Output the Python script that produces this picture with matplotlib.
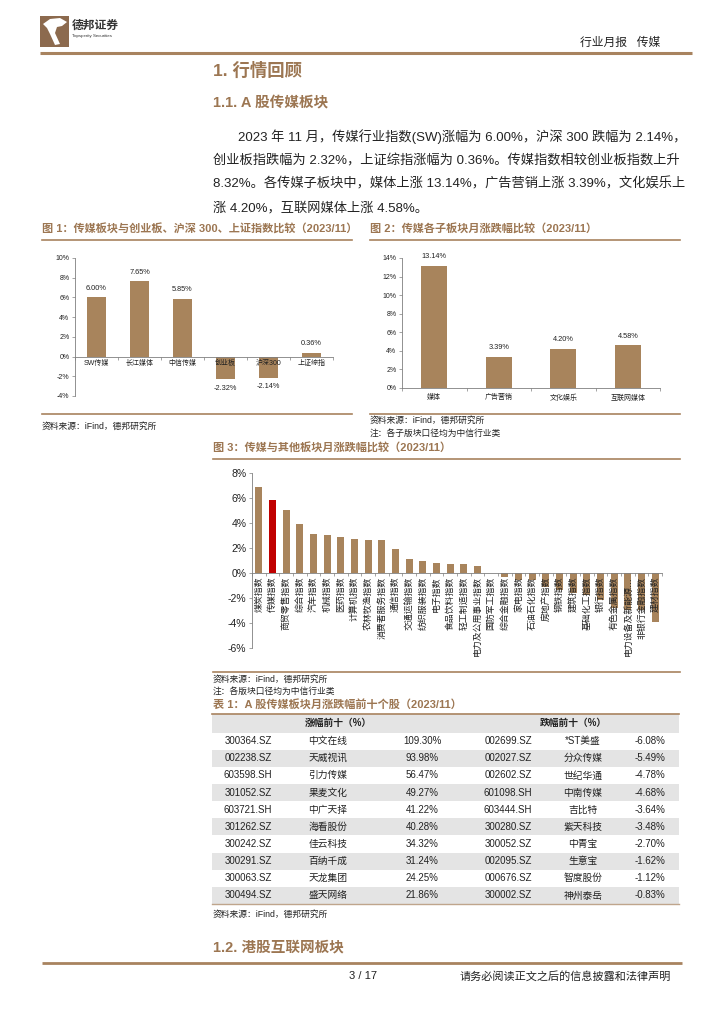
import numpy as np
import matplotlib
matplotlib.use("Agg")
import matplotlib.pyplot as plt
from matplotlib.patches import Rectangle, Polygon

plt.rcParams['font.family'] = ['Liberation Sans', 'Noto Sans CJK SC']

# 图1 数据
fig1_labels = ['SW传媒', '长江媒体', '中信传媒', '创业板', '沪深300', '上证综指']
fig1_values = [6.00, 7.65, 5.85, -2.32, -2.14, 0.36]

# 图2 数据
fig2_labels = ['媒体', '广告营销', '文化娱乐', '互联网媒体']
fig2_values = [13.14, 3.39, 4.20, 4.58]

# 图3 数据
fig3_labels = ['煤炭指数', '传媒指数', '商贸零售指数', '综合指数', '汽车指数', '机械指数',
               '医药指数', '计算机指数', '农林牧渔指数', '消费者服务指数', '通信指数',
               '交通运输指数', '纺织服装指数', '电子指数', '食品饮料指数', '轻工制造指数',
               '电力及公用事业指数', '国防军工指数', '综合金融指数', '家电指数', '石油石化指数',
               '房地产指数', '钢铁指数', '建筑指数', '基础化工指数', '银行指数', '有色金属指数',
               '电力设备及新能源…', '非银行金融指数', '建材指数']
fig3_values = [6.92, 5.85, 5.04, 3.93, 3.09, 3.05, 2.92, 2.72, 2.64, 2.64, 1.95,
               1.15, 0.99, 0.83, 0.73, 0.72, 0.53, -0.03, -0.33, -0.54, -0.56,
               -1.08, -1.36, -1.60, -1.72, -2.16, -2.82, -2.96, -2.98, -3.89]

# 表1 数据
up_codes = ['300364.SZ', '002238.SZ', '603598.SH', '301052.SZ', '603721.SH',
            '301262.SZ', '300242.SZ', '300291.SZ', '300063.SZ', '300494.SZ']
up_names = ['中文在线', '天威视讯', '引力传媒', '果麦文化', '中广天择',
            '海看股份', '佳云科技', '百纳千成', '天龙集团', '盛天网络']
up_pct = ['109.30%', '93.98%', '56.47%', '49.27%', '41.22%',
          '40.28%', '34.32%', '31.24%', '24.25%', '21.86%']
down_codes = ['002699.SZ', '002027.SZ', '002602.SZ', '601098.SH', '603444.SH',
              '300280.SZ', '300052.SZ', '002095.SZ', '000676.SZ', '300002.SZ']
down_names = ['*ST美盛', '分众传媒', '世纪华通', '中南传媒', '吉比特',
              '紫天科技', '中青宝', '生意宝', '智度股份', '神州泰岳']
down_pct = ['-6.08%', '-5.49%', '-4.78%', '-4.68%', '-3.64%',
            '-3.48%', '-2.70%', '-1.62%', '-1.12%', '-0.83%']

W, H = 724, 1024
brown = '#9C7652'
line_c = '#A8835F'
bar_c = '#A8845C'
red_c = '#C00000'
axis_c = '#7F7F7F'
txt_c = '#222222'
gray_row = '#E4E4E4'

fig = plt.figure(figsize=(W / 100, H / 100), dpi=100)
page = fig.add_axes([0, 0, 1, 1])
page.set_xlim(0, W)
page.set_ylim(H, 0)
page.axis('off')


def add_ax(l, t, r, b):
    return fig.add_axes([l / W, 1 - b / H, (r - l) / W, (b - t) / H])


def style_ax(ax, n, ylo, yhi, fs):
    ax.set_xlim(-0.5, n - 0.5)
    ax.set_ylim(ylo, yhi)
    ax.set_facecolor('none')
    for s in ['top', 'right']:
        ax.spines[s].set_visible(False)
    ax.spines['bottom'].set_position(('data', 0))
    for s in ['left', 'bottom']:
        ax.spines[s].set_color(axis_c)
        ax.spines[s].set_linewidth(0.6)
    ax.set_xticks(np.arange(-0.5, n, 1))
    ax.set_xticklabels([])
    ax.set_yticks(np.arange(ylo, yhi + 1, 2))
    ax.set_yticklabels([f'{int(v)}%' for v in np.arange(ylo, yhi + 1, 2)])
    ax.tick_params(axis='both', length=2, width=0.5, color=axis_c, labelsize=fs,
                   labelcolor=txt_c, pad=2)


# 页眉
page.add_patch(Rectangle((40, 16), 29, 31, color='#8C6A4E', lw=0))
page.add_patch(Polygon([(43, 24), (50, 19), (60, 18), (67, 22), (62, 26), (57, 27),
                        (55, 33), (60, 44), (55, 45), (50, 34), (47, 28)],
                       closed=True, color='white', lw=0))
page.text(72, 26, '德邦证券', fontsize=8.5, fontweight='bold', color='#333333', va='center')
page.text(72, 36, 'Topsperity Securities', fontsize=3.2, color='#333333', va='center')
page.text(660, 43, '行业月报   传媒', fontsize=8.5, color=txt_c, ha='right', va='center')
page.plot([40, 692], [53, 53], color=line_c, lw=2.2, solid_capstyle='butt')

page.text(213, 70, '1. 行情回顾', fontsize=12.5, fontweight='bold', color=brown, va='center')
page.text(213, 103, '1.1. A 股传媒板块', fontsize=10.5, fontweight='bold', color=brown, va='center')

para = ['2023 年 11 月，传媒行业指数(SW)涨幅为 6.00%，沪深 300 跌幅为 2.14%，',
        '创业板指跌幅为 2.32%，上证综指涨幅为 0.36%。传媒指数相较创业板指数上升',
        '8.32%。各传媒子板块中，媒体上涨 13.14%，广告营销上涨 3.39%，文化娱乐上',
        '涨 4.20%，互联网媒体上涨 4.58%。']
para_y = [137, 161, 184, 208]
for i, (s, y) in enumerate(zip(para, para_y)):
    page.text(238 if i == 0 else 213, y, s, fontsize=9.5, color=txt_c, va='center')

# 图1
page.text(42, 229, '图 1：传媒板块与创业板、沪深 300、上证指数比较（2023/11）',
          fontsize=8, fontweight='bold', color=brown, va='center')
page.plot([42, 352], [240, 240], color=line_c, lw=1.2)
page.plot([42, 352], [414, 414], color=line_c, lw=1.2)
page.text(42, 426, '资料来源：iFind，德邦研究所', fontsize=6.3, color=txt_c, va='center')

ax1 = add_ax(75, 258, 333, 396)
x1 = np.arange(len(fig1_values))
ax1.bar(x1, fig1_values, width=0.43, color=bar_c, zorder=2)
style_ax(ax1, len(fig1_values), -4, 10, 5)
for i, (lab, v) in enumerate(zip(fig1_labels, fig1_values)):
    ax1.annotate(lab, (i, 0), xytext=(0, -2.5), textcoords='offset points',
                 ha='center', va='top', fontsize=5, color=txt_c, zorder=3)
    ax1.annotate(f'{v:.2f}%', (i, v), xytext=(0, 4 if v > 0 else -4),
                 textcoords='offset points', ha='center',
                 va='bottom' if v > 0 else 'top', fontsize=5.3, color=txt_c)

# 图2
page.text(370, 229, '图 2：传媒各子板块月涨跌幅比较（2023/11）',
          fontsize=8, fontweight='bold', color=brown, va='center')
page.plot([370, 680], [240, 240], color=line_c, lw=1.2)
page.plot([370, 680], [414, 414], color=line_c, lw=1.2)
page.text(370, 420, '资料来源：iFind，德邦研究所', fontsize=6.3, color=txt_c, va='center')
page.text(370, 433, '注：各子版块口径均为中信行业类', fontsize=6.3, color=txt_c, va='center')

ax2 = add_ax(402, 258, 660, 388)
x2 = np.arange(len(fig2_values))
ax2.bar(x2, fig2_values, width=0.41, color=bar_c, zorder=2)
style_ax(ax2, len(fig2_values), 0, 14, 5)
for i, (lab, v) in enumerate(zip(fig2_labels, fig2_values)):
    ax2.annotate(lab, (i, 0), xytext=(0, -4.5), textcoords='offset points',
                 ha='center', va='top', fontsize=5, color=txt_c)
    ax2.annotate(f'{v:.2f}%', (i, v), xytext=(0, 4), textcoords='offset points',
                 ha='center', va='bottom', fontsize=5.3, color=txt_c)

# 图3
page.text(213, 448, '图 3：传媒与其他板块月涨跌幅比较（2023/11）',
          fontsize=8, fontweight='bold', color=brown, va='center')
page.plot([213, 680], [459, 459], color=line_c, lw=1.2)
page.plot([213, 680], [672, 672], color=line_c, lw=1.2)
page.text(213, 679, '资料来源：iFind，德邦研究所', fontsize=6.3, color=txt_c, va='center')
page.text(213, 691, '注：各版块口径均为中信行业类', fontsize=6.3, color=txt_c, va='center')

ax3 = add_ax(252, 473, 662, 648)
x3 = np.arange(len(fig3_values))
colors3 = [red_c if lab == '传媒指数' else bar_c for lab in fig3_labels]
ax3.bar(x3, fig3_values, width=0.5, color=colors3, zorder=2)
style_ax(ax3, len(fig3_values), -6, 8, 7.5)
for i, lab in enumerate(fig3_labels):
    ax3.annotate(lab, (i, 0), xytext=(0, -2.5), textcoords='offset points',
                 ha='center', va='top', rotation=90, fontsize=6.4, color=txt_c, zorder=3)

# 表1
page.text(213, 704, '表 1：A 股传媒板块月涨跌幅前十个股（2023/11）',
          fontsize=8, fontweight='bold', color=brown, va='center')
tab_l, tab_r = 212, 679
head_top, head_h = 714, 18.5
row_h = 17.15
page.add_patch(Rectangle((tab_l, head_top), tab_r - tab_l, head_h, color=gray_row, lw=0))
page.text(338, head_top + head_h / 2, '涨幅前十（%）', fontsize=7, fontweight='bold',
          ha='center', va='center', color=txt_c)
page.text(573, head_top + head_h / 2, '跌幅前十（%）', fontsize=7, fontweight='bold',
          ha='center', va='center', color=txt_c)
col_x = [248, 328, 422, 508, 583, 650]
row0 = head_top + head_h
for i in range(len(up_codes)):
    top = row0 + i * row_h
    if i % 2 == 1:
        page.add_patch(Rectangle((tab_l, top), tab_r - tab_l, row_h, color=gray_row, lw=0))
    cells = [up_codes[i], up_names[i], up_pct[i], down_codes[i], down_names[i], down_pct[i]]
    for cx, c in zip(col_x, cells):
        page.text(cx, top + row_h / 2, c, fontsize=7, ha='center', va='center', color=txt_c)
tab_bottom = row0 + len(up_codes) * row_h
page.plot([tab_l, tab_r], [head_top, head_top], color=line_c, lw=1.2)
page.plot([tab_l, tab_r], [tab_bottom, tab_bottom], color='#BFA58C', lw=1.0)
page.text(213, tab_bottom + 10, '资料来源：iFind，德邦研究所', fontsize=6.3, color=txt_c, va='center')

page.text(213, 947, '1.2. 港股互联网板块', fontsize=10.5, fontweight='bold', color=brown, va='center')

# 页脚
page.plot([42, 682], [963, 963], color=line_c, lw=2.0, solid_capstyle='butt')
page.text(363, 976, '3 / 17', fontsize=8, color=txt_c, ha='center', va='center')
page.text(671, 976, '请务必阅读正文之后的信息披露和法律声明', fontsize=8, color=txt_c,
          ha='right', va='center')

fig.savefig('out.png', dpi=100)
